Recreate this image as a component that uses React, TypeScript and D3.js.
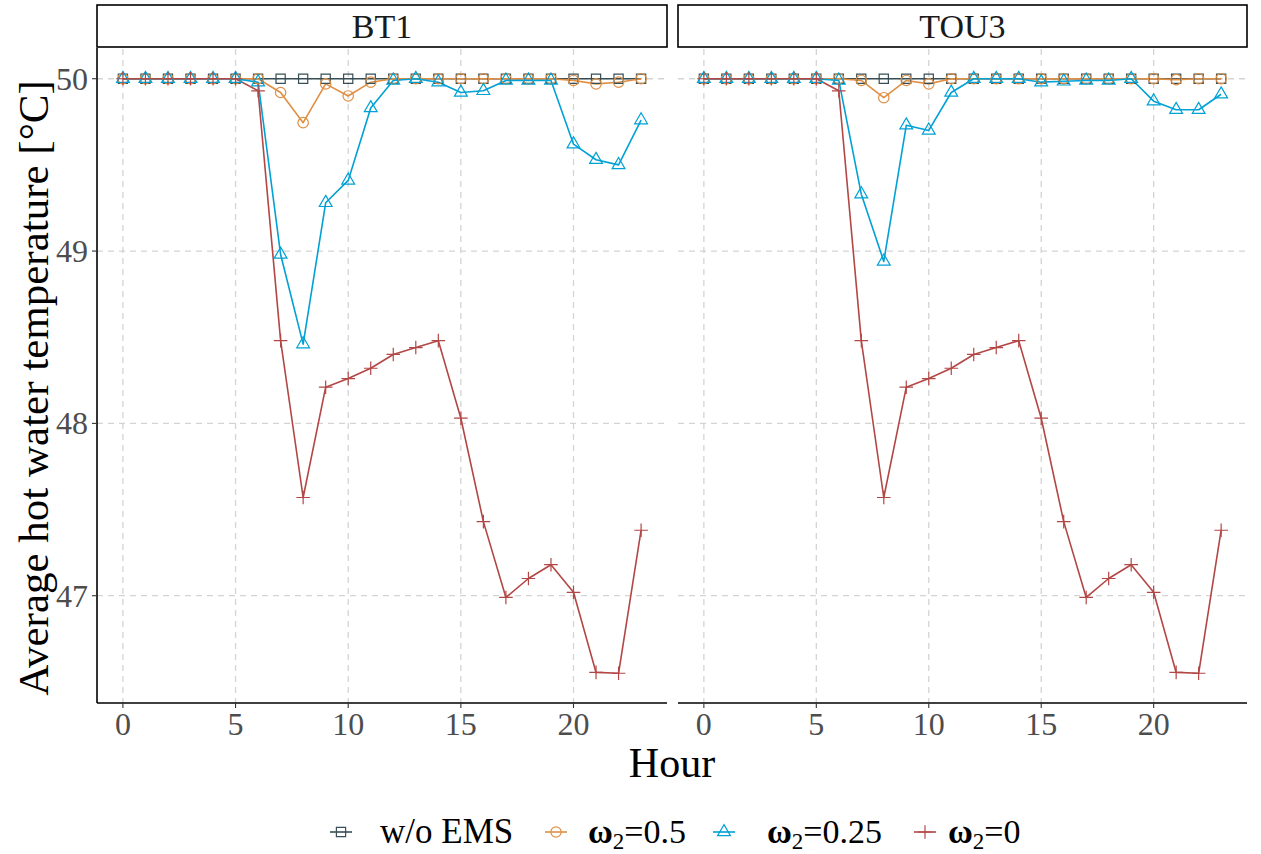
import React from 'react';
import * as d3 from 'd3';

const hours = [0, 1, 2, 3, 4, 5, 6, 7, 8, 9, 10, 11, 12, 13, 14, 15, 16, 17, 18, 19, 20, 21, 22, 23];
const panels = ['BT1', 'TOU3'];
const seriesKeys = ['woEMS', 'w05', 'w025', 'w0'];
const seriesColors = ['#374E55', '#DF8F44', '#00A1D5', '#B24745'];
const seriesShapes = ['square', 'circle', 'triangle', 'plus'];
const xTicks = [0, 5, 10, 15, 20];
const yTicks = [47, 48, 49, 50];

const bt1WoEMS = [50, 50, 50, 50, 50, 50, 50, 50, 50, 50, 50, 50, 50, 50, 50, 50, 50, 50, 50, 50, 50, 50, 50, 50];
const bt1W05 = [50, 50, 50, 50, 50, 50, 50, 49.92, 49.745, 49.97, 49.9, 49.98, 50, 50, 50, 50, 50, 50, 50, 50, 49.99, 49.97, 49.98, 50];
const bt1W025 = [50, 50, 50, 50, 50, 50, 49.98, 48.98, 48.46, 49.28, 49.41, 49.83, 49.99, 50, 49.98, 49.92, 49.93, 49.99, 49.99, 49.99, 49.62, 49.53, 49.5, 49.76];
const bt1W0 = [50, 50, 50, 50, 50, 50, 49.93, 48.48, 47.57, 48.21, 48.26, 48.32, 48.4, 48.44, 48.48, 48.03, 47.43, 46.99, 47.1, 47.18, 47.02, 46.555, 46.55, 47.38];

const tou3WoEMS = [50, 50, 50, 50, 50, 50, 50, 50, 50, 50, 50, 50, 50, 50, 50, 50, 50, 50, 50, 50, 50, 50, 50, 50];
const tou3W05 = [50, 50, 50, 50, 50, 50, 50, 49.99, 49.89, 49.99, 49.97, 50, 50, 50, 50, 50, 50, 50, 50, 50, 50, 49.995, 50, 50];
const tou3W025 = [50, 50, 50, 50, 50, 50, 49.99, 49.33, 48.94, 49.73, 49.7, 49.92, 50, 50, 50, 49.98, 49.985, 49.99, 49.99, 50, 49.87, 49.82, 49.82, 49.91];
const tou3W0 = [50, 50, 50, 50, 50, 50, 49.93, 48.48, 47.57, 48.21, 48.26, 48.32, 48.4, 48.44, 48.48, 48.03, 47.43, 46.99, 47.1, 47.18, 47.02, 46.555, 46.55, 47.38];

const panelData: Record<string, number[][]> = {
  BT1: [bt1WoEMS, bt1W05, bt1W025, bt1W0],
  TOU3: [tou3WoEMS, tou3W05, tou3W025, tou3W0],
};

const FONT = '"Liberation Serif", "DejaVu Serif", serif';
const W = 1261;
const H = 854;
const panelTop = 49;
const panelBottom = 703;
const panelX: [number, number][] = [[97, 667], [678, 1247]];
const stripTop = 5;
const stripBottom = 47;

function markerPath(shape: string, x: number, y: number): string {
  if (shape === 'square') {
    const s = 4.6;
    return `M${x - s},${y - s}H${x + s}V${y + s}H${x - s}Z`;
  }
  if (shape === 'circle') {
    const r = 5.2;
    return `M${x - r},${y}A${r},${r} 0 1,0 ${x + r},${y}A${r},${r} 0 1,0 ${x - r},${y}Z`;
  }
  if (shape === 'triangle') {
    const s = 6.4;
    const h = s * Math.sqrt(3);
    return `M${x},${y - (2 * h) / 3}L${x + s},${y + h / 3}L${x - s},${y + h / 3}Z`;
  }
  const a = 6.8;
  return `M${x - a},${y}H${x + a}M${x},${y - a}V${y + a}`;
}

export default function App() {
  const allVals = panels.flatMap((p) => panelData[p].flat());
  const [ymin, ymax] = d3.extent(allVals) as [number, number];
  const yPad = (ymax - ymin) * 0.05;
  const y = d3.scaleLinear().domain([ymin - yPad, ymax + yPad]).range([panelBottom, panelTop]);
  const xPad = (d3.max(hours)! - d3.min(hours)!) * 0.05;

  const legendItems = [
    { keyX: 341, textX: 380, label: 'w/o EMS', sub: null as null | { pre: string; post: string } },
    { keyX: 556, textX: 588, label: '', sub: { pre: 'ω', post: '=0.5' } },
    { keyX: 724, textX: 767, label: '', sub: { pre: 'ω', post: '=0.25' } },
    { keyX: 925, textX: 948, label: '', sub: { pre: 'ω', post: '=0' } },
  ];
  const legendY = 832;

  return (
    <svg width={W} height={H} style={{ position: 'absolute', left: 0, top: 0, background: '#fff' }} fontFamily={FONT}>
      <rect x={0} y={0} width={W} height={H} fill="#fff" />
      {panels.map((p, pi) => {
        const [x0, x1] = panelX[pi];
        const x = d3.scaleLinear().domain([d3.min(hours)! - xPad, d3.max(hours)! + xPad]).range([x0, x1]);
        const line = d3
          .line<number>()
          .x((_, i) => x(hours[i]))
          .y((d) => y(d));
        return (
          <g key={p}>
            {xTicks.map((t) => (
              <line key={'gx' + t} x1={x(t)} x2={x(t)} y1={panelTop} y2={panelBottom} stroke="#d4d4d4" strokeWidth={1.3} strokeDasharray="6,5" />
            ))}
            {yTicks.map((t) => (
              <line key={'gy' + t} x1={x0} x2={x1} y1={y(t)} y2={y(t)} stroke="#d4d4d4" strokeWidth={1.3} strokeDasharray="6,5" />
            ))}
            {panelData[p].map((vals, si) => (
              <path key={'l' + si} d={line(vals) || ''} fill="none" stroke={seriesColors[si]} strokeWidth={1.6} strokeLinejoin="round" />
            ))}
            {panelData[p].map((vals, si) => (
              <g key={'p' + si}>
                {vals.map((v, i) => (
                  <path key={i} d={markerPath(seriesShapes[si], x(hours[i]), y(v))} fill="none" stroke={seriesColors[si]} strokeWidth={1.2} />
                ))}
              </g>
            ))}
            <rect x={x0} y={stripTop} width={x1 - x0} height={stripBottom - stripTop} fill="#fff" stroke="#000" strokeWidth={1.6} />
            <text x={(x0 + x1) / 2} y={(stripTop + stripBottom) / 2 + 12} textAnchor="middle" fontSize={34} fill="#1a1a1a">
              {p}
            </text>
            <line x1={x0} x2={x1} y1={panelBottom} y2={panelBottom} stroke="#000" strokeWidth={1.6} />
            {xTicks.map((t) => (
              <g key={'xt' + t}>
                <line x1={x(t)} x2={x(t)} y1={panelBottom} y2={panelBottom + 5} stroke="#333" strokeWidth={1.1} />
                <text x={x(t)} y={panelBottom + 32} textAnchor="middle" fontSize={32} fill="#4d4d4d">
                  {t}
                </text>
              </g>
            ))}
            {pi === 0 && (
              <g>
                <line x1={x0} x2={x0} y1={panelTop - 1} y2={panelBottom} stroke="#000" strokeWidth={1.6} />
                {yTicks.map((t) => (
                  <g key={'yt' + t}>
                    <line x1={x0 - 5} x2={x0} y1={y(t)} y2={y(t)} stroke="#333" strokeWidth={1.1} />
                    <text x={x0 - 9} y={y(t) + 11} textAnchor="end" fontSize={32} fill="#4d4d4d">
                      {t}
                    </text>
                  </g>
                ))}
              </g>
            )}
          </g>
        );
      })}
      <text x={(panelX[0][0] + panelX[1][1]) / 2} y={777} textAnchor="middle" fontSize={42} fill="#000">
        Hour
      </text>
      <text transform={`translate(48,${(panelTop + panelBottom) / 2 + 12}) rotate(-90)`} textAnchor="middle" fontSize={43} fill="#000">
        Average hot water temperature [°C]
      </text>
      {legendItems.map((it, i) => (
        <g key={'lg' + i}>
          <line x1={it.keyX - 11} x2={it.keyX + 11} y1={legendY} y2={legendY} stroke={seriesColors[i]} strokeWidth={1.6} />
          <path d={markerPath(seriesShapes[i], it.keyX, legendY)} fill="none" stroke={seriesColors[i]} strokeWidth={1.2} />
          {it.sub ? (
            <text x={it.textX} y={legendY + 11} fontSize={34} fill="#000">
              <tspan fontWeight="bold">{it.sub.pre}</tspan>
              <tspan fontSize={23} dy={6}>2</tspan>
              <tspan dy={-6}>{it.sub.post}</tspan>
            </text>
          ) : (
            <text x={it.textX} y={legendY + 11} fontSize={35} fill="#000">
              {it.label}
            </text>
          )}
        </g>
      ))}
    </svg>
  );
}
